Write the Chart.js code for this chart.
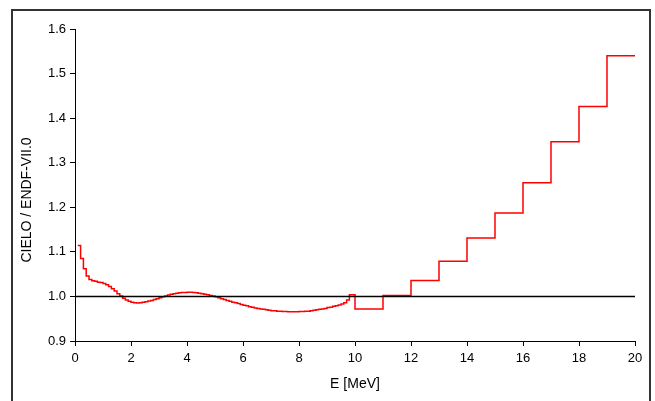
<!DOCTYPE html>
<html>
<head>
<meta charset="utf-8">
<script src="https://cdn.jsdelivr.net/npm/chart.js@4/dist/chart.umd.min.js"></script>
<style>
    body { margin: 0; background: #fff; }
    #wrap { position: relative; width: 655px; height: 401px; }
    #frame { position: absolute; left: 11px; top: 9px; width: 640px; height: 400px; border: 2px solid #333; box-sizing: border-box; }
    canvas { position: absolute; left: 0; top: 0; }
</style>
</head>
<body>
<div id="wrap">
    <div id="frame"></div>
    <canvas id="chart1" width="655" height="401"></canvas>
</div>
<script>
// lower bin edges [MeV]; the last entry (20) closes the final bin
const energyEdges = [
    0.1, 0.2, 0.3, 0.4, 0.5, 0.6, 0.7, 0.8, 0.9,
    1.0, 1.1, 1.2, 1.3, 1.4, 1.5, 1.6, 1.7, 1.8, 1.9,
    2.0, 2.1, 2.2, 2.3, 2.4, 2.5, 2.6, 2.7, 2.8, 2.9,
    3.0, 3.1, 3.2, 3.3, 3.4, 3.5, 3.6, 3.7, 3.8, 3.9,
    4.0, 4.1, 4.2, 4.3, 4.4, 4.5, 4.6, 4.7, 4.8, 4.9,
    5.0, 5.1, 5.2, 5.3, 5.4, 5.5, 5.6, 5.7, 5.8, 5.9,
    6.0, 6.1, 6.2, 6.3, 6.4, 6.5, 6.6, 6.7, 6.8, 6.9,
    7.0, 7.1, 7.2, 7.3, 7.4, 7.5, 7.6, 7.7, 7.8, 7.9,
    8.0, 8.1, 8.2, 8.3, 8.4, 8.5, 8.6, 8.7, 8.8, 8.9,
    9.0, 9.1, 9.2, 9.3, 9.4, 9.5, 9.6, 9.7, 9.8, 9.9,
    10, 11, 12, 13, 14, 15, 16, 17, 18, 19, 20
];

// CIELO / ENDF-VII.0 ratio in each bin
const ratio = [
    1.114, 1.085, 1.062, 1.046, 1.038, 1.035, 1.034, 1.032, 1.031,
    1.029, 1.026, 1.022, 1.017, 1.012, 1.006, 1.001, 0.996, 0.992, 0.989,
    0.987, 0.986, 0.9855, 0.986, 0.987, 0.988, 0.990, 0.991, 0.993, 0.995,
    0.997, 0.999, 1.001, 1.003, 1.005, 1.006, 1.007, 1.008, 1.009, 1.009,
    1.0095, 1.0095, 1.009, 1.008, 1.007, 1.006, 1.005, 1.004, 1.002, 1.001,
    0.999, 0.997, 0.995, 0.993, 0.991, 0.989, 0.987, 0.986, 0.984, 0.982,
    0.980, 0.979, 0.977, 0.976, 0.974, 0.973, 0.972, 0.971, 0.970, 0.969,
    0.968, 0.968, 0.967, 0.967, 0.966, 0.966, 0.9655, 0.9655, 0.9655, 0.9655,
    0.966, 0.966, 0.9665, 0.967, 0.968, 0.969, 0.970, 0.971, 0.972, 0.973,
    0.975, 0.976, 0.978, 0.979, 0.981, 0.983, 0.986, 0.992, 1.004, 1.004,
    0.972, 1.002, 1.036, 1.079, 1.131, 1.187, 1.255, 1.347, 1.426, 1.540
];

const unityX = [0, 20];
const unityY = [1.0, 1.0];

const xTicks = [0, 2, 4, 6, 8, 10, 12, 14, 16, 18, 20];
const yTicks = [0.9, 1.0, 1.1, 1.2, 1.3, 1.4, 1.5, 1.6];

const yTitle = 'CIELO / ENDF-VII.0';

window.onload = function() {
    const ctx1 = document.getElementById('chart1').getContext('2d');

    // step line: each bin value is held until the next edge
    const stepPoints = energyEdges.map((e, i) => ({ x: e, y: ratio[Math.min(i, ratio.length - 1)] }));
    const unityPoints = unityX.map((x, i) => ({ x: x, y: unityY[i] }));

    const family = 'Liberation Sans, Arial, sans-serif';
    const font = { family: family, size: 13 };

    // y title sits a bit below the axis middle in the original, so draw it by hand
    const yTitlePlugin = {
        id: 'yTitle',
        afterDraw: chart => {
            const c = chart.ctx;
            c.save();
            c.translate(27, 200);
            c.rotate(-Math.PI / 2);
            c.font = '14px ' + family;
            c.fillStyle = '#000';
            c.textAlign = 'center';
            c.textBaseline = 'middle';
            c.fillText(yTitle, 0, 0);
            c.restore();
        }
    };

    const config1 = {
        type: 'line',
        data: {
            datasets: [{
                data: unityPoints,
                borderColor: '#000',
                borderWidth: 1.5,
                pointRadius: 0
            }, {
                data: stepPoints,
                borderColor: '#ff0000',
                borderWidth: 1.5,
                pointRadius: 0,
                stepped: 'before'
            }]
        },
        options: {
            responsive: false,
            animation: false,
            layout: { padding: { left: 14, top: 29, right: 20, bottom: 0 } },
            plugins: {
                legend: { display: false },
                tooltip: { enabled: false }
            },
            scales: {
                x: {
                    type: 'linear',
                    min: 0,
                    max: 20,
                    afterFit: s => { s.height = 60; },
                    afterBuildTicks: s => { s.ticks = xTicks.map(v => ({ value: v })); },
                    grid: { drawOnChartArea: false, tickLength: 5, color: '#000' },
                    border: { color: '#000', width: 1 },
                    ticks: { color: '#000', font: font, padding: 5, maxRotation: 0 },
                    title: { display: true, text: 'E [MeV]', color: '#000', font: { family: family, size: 14 }, padding: { top: 4, bottom: 8 } }
                },
                y: {
                    min: 0.9,
                    max: 1.6,
                    afterFit: s => { s.width = 61; },
                    afterBuildTicks: s => { s.ticks = yTicks.map(v => ({ value: v })); },
                    grid: { drawOnChartArea: false, tickLength: 5, color: '#000' },
                    border: { color: '#000', width: 1 },
                    ticks: { color: '#000', font: font, padding: 4, callback: v => v.toFixed(1) }
                }
            }
        },
        plugins: [yTitlePlugin]
    };

    new Chart(ctx1, config1);
};
</script>
</body>
</html>
